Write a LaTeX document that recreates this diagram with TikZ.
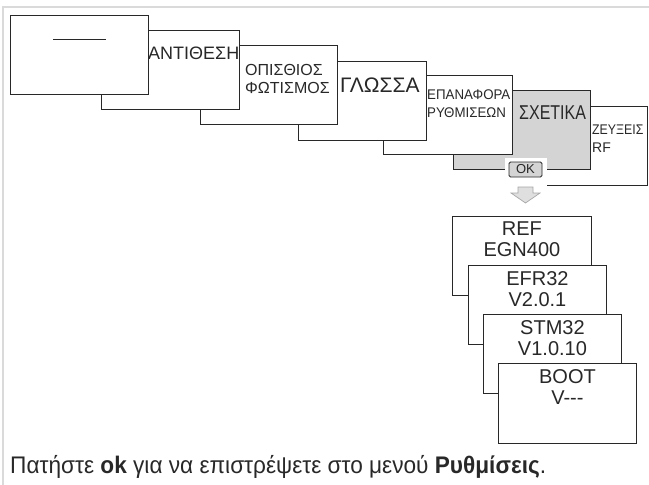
\documentclass[tikz,border=0pt]{standalone}
\usepackage{fontspec}
\setmainfont{Liberation Sans}
\usepackage{graphicx}
\definecolor{ink}{RGB}{40,40,40}
\definecolor{panel}{RGB}{212,212,212}
\definecolor{rim}{RGB}{218,218,218}

\begin{document}
\begin{tikzpicture}[x=1pt, y=-1pt,
    screen/.style={draw=ink, line width=0.9pt, fill=white, rectangle, anchor=north west,
        minimum width=138pt, minimum height=79pt, inner sep=0pt},
    lbl/.style={anchor=west, inner sep=0pt, text=ink, align=left},
    info/.style={anchor=north, inner sep=0pt, text=ink, align=center,
        font=\fontsize{20}{21}\selectfont}]
    \useasboundingbox (0,0) rectangle (649,485);
    % light frame of the page (top and left only)
    \draw[rim, line width=1.5pt] (3,485) -- (3,7) -- (649,7);

    % menu strip, drawn from the back to the front
    \node[screen] (rf) at (509,106) {};
    \node[lbl, font=\fontsize{14}{18}\selectfont] (rfT) at (592,139) {\scalebox{0.88}[1]{ΖΕΥΞΕΙΣ}\\RF};
    \node[screen, fill=panel, minimum width=137pt] (about) at (453,90) {};
    \node[lbl, font=\fontsize{20}{22}\selectfont] (aboutT) at (519,113) {\scalebox{0.8}[1]{ΣΧΕΤΙΚΑ}};
    \node[screen, minimum width=129pt] (reset) at (383,75) {};
    \node[lbl, font=\fontsize{14}{18}\selectfont] (resetT) at (427,104)
        {\scalebox{0.95}[1]{ΕΠΑΝΑΦΟΡΑ}\\\scalebox{0.95}[1]{ΡΥΘΜΙΣΕΩΝ}};
    \node[screen, minimum width=128pt] (lang) at (298,61) {};
    \node[lbl, font=\fontsize{21}{22}\selectfont] (langT) at (340,85) {ΓΛΩΣΣΑ};
    \node[screen, minimum width=137pt] (light) at (200,45) {};
    \node[lbl, font=\fontsize{16}{18}\selectfont] (lightT) at (245,79) {ΟΠΙΣΘΙΟΣ\\ΦΩΤΙΣΜΟΣ};
    \node[screen] (contrast) at (101,30) {};
    \node[lbl, font=\fontsize{18}{20}\selectfont] (contrastT) at (148,53) {ΑΝΤΙΘΕΣΗ};
    \node[screen] (home) at (10,15) {};
    \draw[ink, line width=1pt] ([xshift=43pt, yshift=-24pt]home.north west) -- ++(53,0);

    % OK key and arrow down to the info screens
    \fill[white] (505,158) rectangle (547,187);
    \node[draw=ink, line width=0.8pt, fill=panel, rounded corners=1.5pt, minimum width=33pt,
        minimum height=15pt, inner sep=0pt, text=ink, font=\fontsize{13}{13}\selectfont] (ok) at (525.5,169.5) {OK};
    \draw[draw=gray!70, fill=gray!25, line width=0.7pt] (518,187) -- (533,187) -- (533,193) -- (540,193)
        -- (525.5,203) -- (511,193) -- (518,193) -- cycle;

    % info screens
    \node[screen, minimum width=139pt] (ref) at (452,216) {};
    \node[info] (refT) at ([yshift=-6pt]ref.north) {REF\\EGN400};
    \node[screen] (efr) at (468,265) {};
    \node[info] (efrT) at ([yshift=-6pt]efr.north) {EFR32\\V2.0.1};
    \node[screen] (stm) at (483,314) {};
    \node[info] (stmT) at ([yshift=-6pt]stm.north) {STM32\\V1.0.10};
    \node[screen, minimum height=80pt] (boot) at (498,363) {};
    \node[info] (bootT) at ([yshift=-6pt]boot.north) {BOOT\\V-{}-{}-};

    \node[lbl, font=\fontsize{24}{26}\selectfont] (note) at (10,467)
        {\scalebox{0.943}[1]{Πατήστε \textbf{ok} για να επιστρέψετε στο μενού \textbf{Ρυθμίσεις}.}};
\end{tikzpicture}
\end{document}
